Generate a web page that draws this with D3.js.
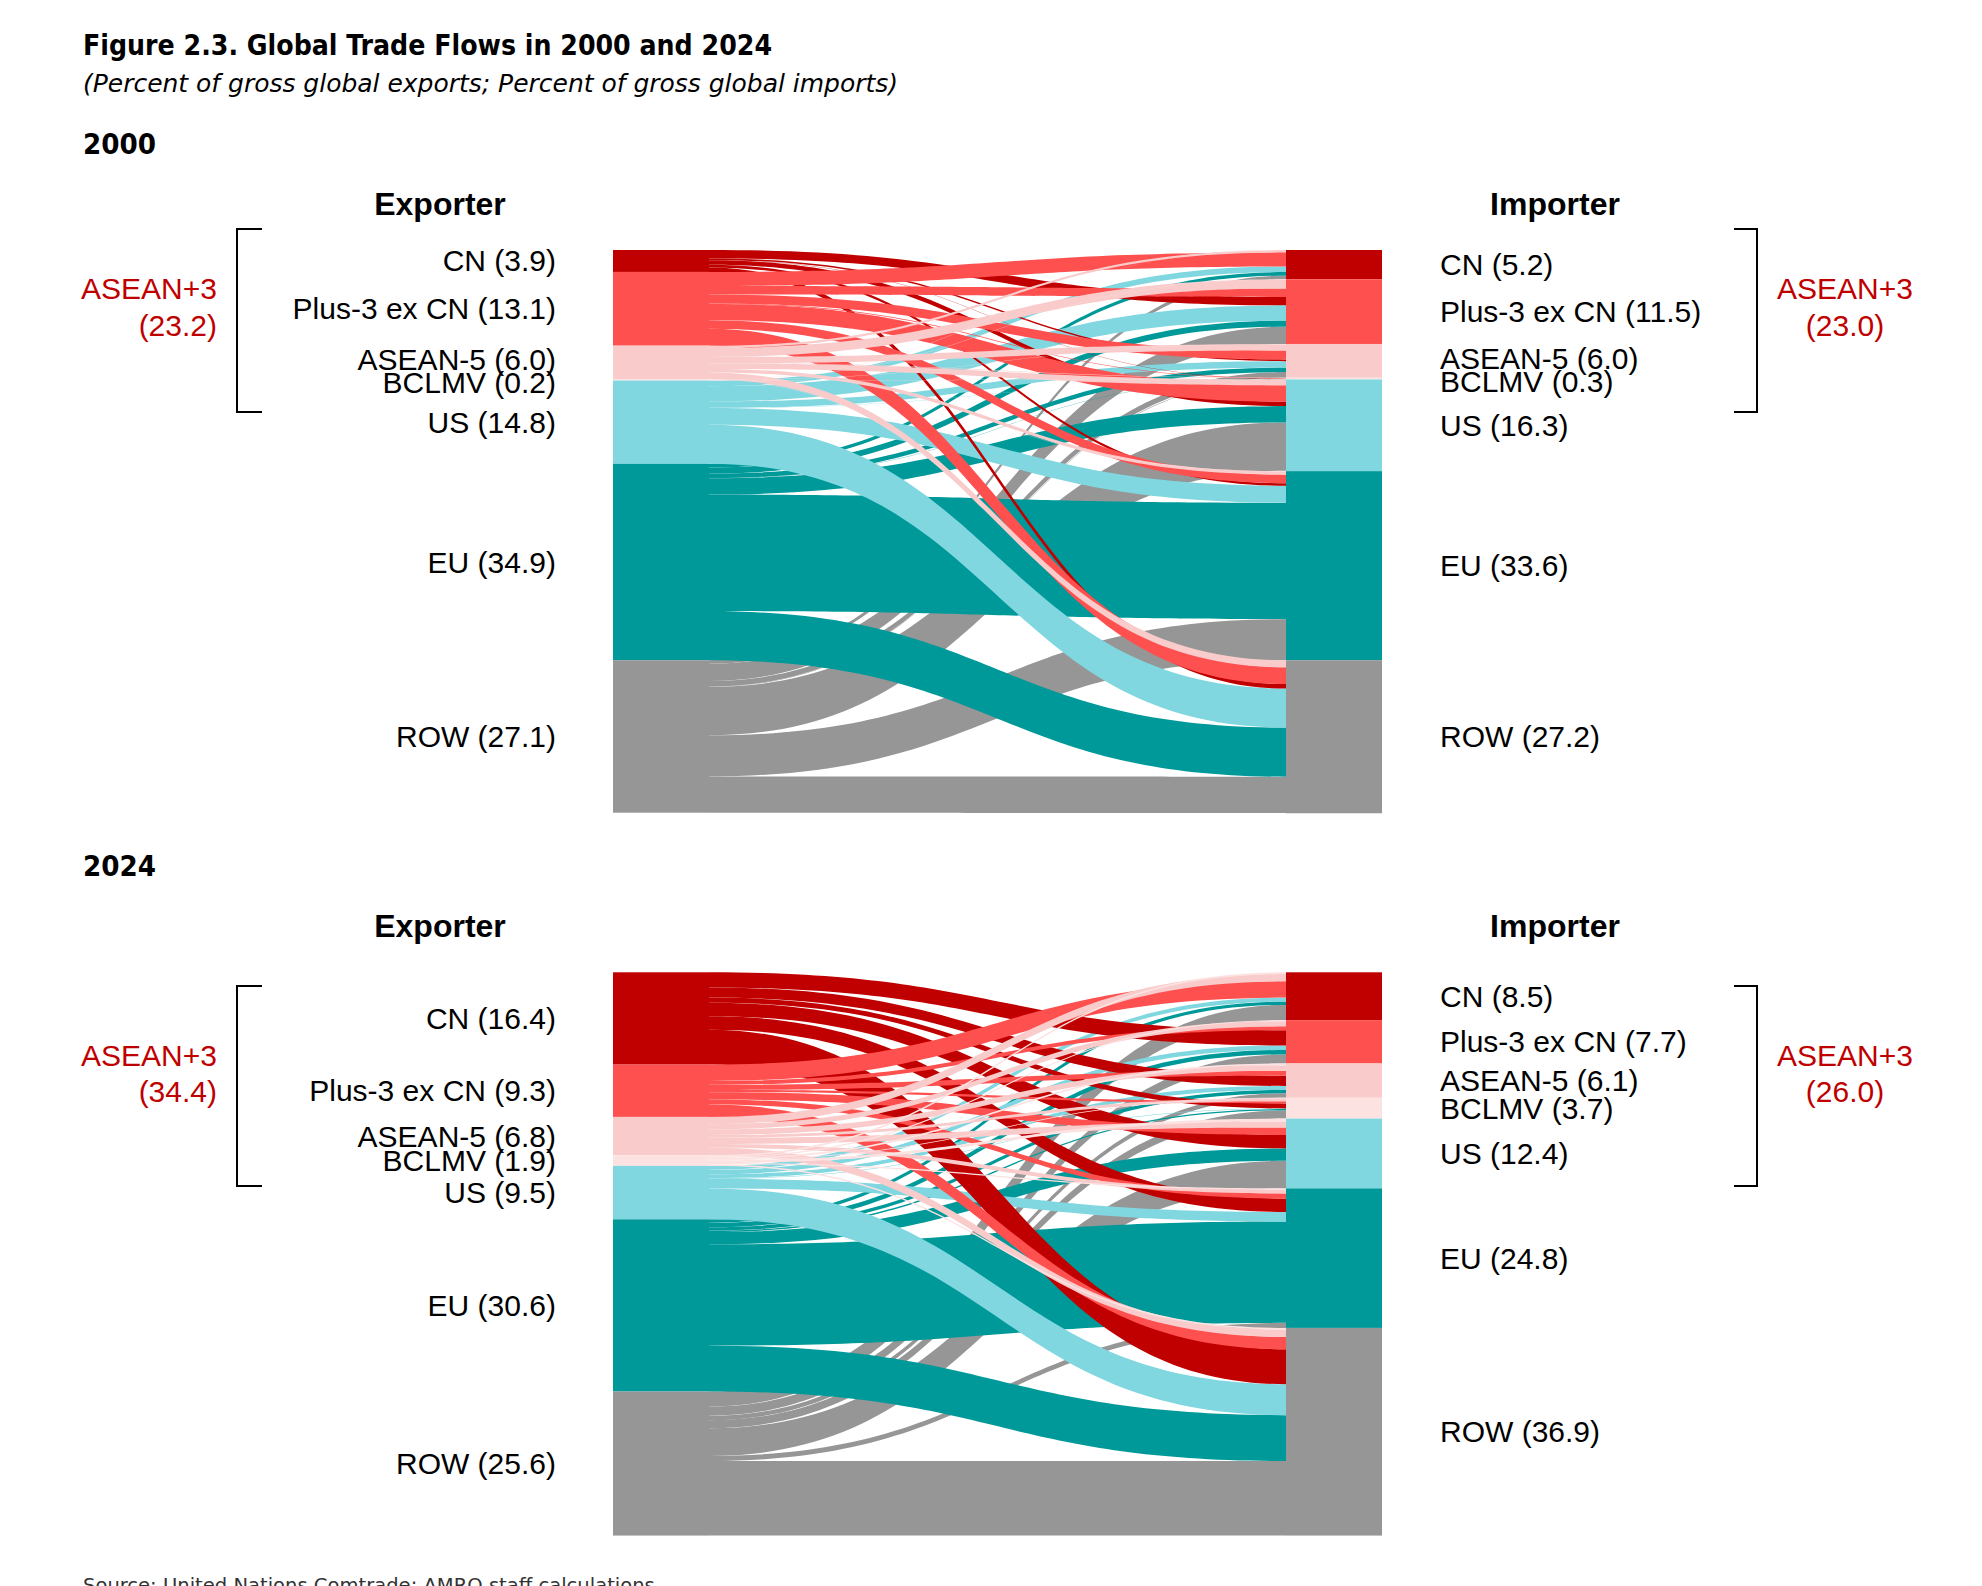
<!DOCTYPE html>
<html>
<head>
<meta charset="utf-8">
<script src="https://cdn.jsdelivr.net/npm/d3@7"></script>
<style>
  body { margin: 0; background: #fff; }
  text { font-family: 'Liberation Sans', Arial, sans-serif; fill: #000; }
  .cond { font-family: 'Liberation Sans Narrow', 'DejaVu Sans Condensed', 'Liberation Sans', sans-serif; }
</style>
</head>
<body>
<svg id="chart"></svg>
<script>
'use strict'

// regions, top to bottom on both sides
const regions = ['CN', 'Plus-3 ex CN', 'ASEAN-5', 'BCLMV', 'US', 'EU', 'ROW']
const regionColors = ['#c00000', '#ff5050', '#f9cbcb', '#fde2e2', '#80d7e0', '#009999', '#969696']

// order in which exporters are stacked inside each importer bar
const importerStackOrder = [3, 2, 1, 0, 4, 5, 6]
// exporters painted back to front
const paintOrder = [6, 5, 4, 0, 1, 2, 3]

// 2000, percent of gross global exports / imports
const exporters2000 = [3.9, 13.1, 6.0, 0.2, 14.8, 34.9, 27.1]
const importers2000 = [5.2, 11.5, 6.0, 0.3, 16.3, 33.6, 27.2]
const asean2000 = [23.2, 23.0]
// rows: exporter, columns: importer (CN, Plus-3, ASEAN-5, BCLMV, US, EU, ROW)
const flows2000 = [
  [0, 1.5, 0.3, 0.03, 0.8, 0.47, 0.8],
  [2.5, 1.5, 1.6, 0.1, 2.9, 1.5, 3.0],
  [0.4, 1.6, 1.1, 0.07, 1.0, 0.6, 1.23],
  [0.02, 0.04, 0.05, 0, 0.04, 0.03, 0.02],
  [1.0, 2.7, 1.15, 0.02, 0, 3.0, 6.93],
  [0.65, 1.1, 0.8, 0.02, 2.9, 20.7, 8.73],
  [0.63, 3.06, 1.0, 0.06, 8.6, 7.3, 6.45]
]

// 2024
const exporters2024 = [16.4, 9.3, 6.8, 1.9, 9.5, 30.6, 25.6]
const importers2024 = [8.5, 7.7, 6.1, 3.7, 12.4, 24.8, 36.9]
const asean2024 = [34.4, 26.0]
const flows2024 = [
  [0, 2.7, 1.8, 0.9, 2.4, 2.4, 6.2],
  [2.9, 0.7, 0.9, 0.4, 1.3, 0.9, 2.2],
  [1.3, 0.9, 1.0, 0.5, 1.1, 0.7, 1.3],
  [0.3, 0.2, 0.3, 0.1, 0.5, 0.2, 0.3],
  [0.7, 0.8, 0.7, 0.1, 0, 1.7, 5.5],
  [0.6, 0.8, 0.6, 0.25, 2.2, 18.0, 8.15],
  [2.7, 1.6, 0.8, 1.45, 4.9, 0.9, 13.25]
]

const width = 1982
const height = 1586
const srcX0 = 613
const srcX1 = 709
const tgtX0 = 1286
const tgtX1 = 1382
const panelHeight = 562.7
const labelGap = 23
const asean = '#c00000'

const svg = d3.select('#chart')
  .attr('width', width)
  .attr('height', height)
  .style('background', '#fff')

const share = d3.scaleLinear().domain([0, 100]).range([0, panelHeight])

svg.append('text')
  .attr('class', 'cond')
  .attr('x', 83).attr('y', 55)
  .attr('textLength', 689).attr('lengthAdjust', 'spacingAndGlyphs')
  .style('font-size', '28px').style('font-weight', 'bold')
  .text('Figure 2.3. Global Trade Flows in 2000 and 2024')

svg.append('text')
  .attr('class', 'cond')
  .attr('x', 83).attr('y', 92)
  .attr('textLength', 815).attr('lengthAdjust', 'spacingAndGlyphs')
  .style('font-size', '24px').style('font-style', 'italic')
  .text('(Percent of gross global exports; Percent of gross global imports)')

svg.append('text')
  .attr('class', 'cond')
  .attr('x', 83).attr('y', 1592)
  .attr('textLength', 578).attr('lengthAdjust', 'spacingAndGlyphs')
  .style('font-size', '20px').style('fill', '#333')
  .text('Source: United Nations Comtrade; AMRO staff calculations.')

function stack (values, top) {
  let acc = 0
  return values.map(v => {
    const y0 = top + share(acc)
    acc += v
    return { y0, y1: top + share(acc), value: v }
  })
}

function spread (ys) {
  const out = ys.slice()
  for (let k = 0; k < 30; k++) {
    for (let i = 1; i < out.length; i++) {
      const d = out[i] - out[i - 1]
      if (d < labelGap) {
        const s = (labelGap - d) / 2
        out[i - 1] -= s
        out[i] += s
      }
    }
  }
  return out
}

function ribbon (l) {
  const xm = (srcX1 + tgtX0) / 2
  const p = d3.path()
  p.moveTo(srcX1, l.sy0)
  p.bezierCurveTo(xm, l.sy0, xm, l.ty0, tgtX0, l.ty0)
  p.lineTo(tgtX0, l.ty1)
  p.bezierCurveTo(xm, l.ty1, xm, l.sy1, srcX1, l.sy1)
  p.closePath()
  return p.toString()
}

function drawPanel ({ top, year, exporters, importers, flows, totals, bracket, aseanY }) {
  const g = svg.append('g')
  const srcNodes = stack(exporters, top)
  const tgtNodes = stack(importers, top)

  // links, stacked by importer inside each exporter bar
  const links = []
  srcNodes.forEach((n, i) => {
    let off = n.y0
    flows[i].forEach((v, j) => {
      const l = { source: i, target: j, value: v, sy0: off }
      off += share(v)
      l.sy1 = off
      links.push(l)
    })
  })
  tgtNodes.forEach((n, j) => {
    let off = n.y0
    importerStackOrder.forEach(i => {
      const l = links.find(d => d.source === i && d.target === j)
      l.ty0 = off
      off += share(l.value)
      l.ty1 = off
    })
  })

  const drawn = links
    .filter(l => l.value > 0)
    .sort((a, b) => (paintOrder.indexOf(a.source) - paintOrder.indexOf(b.source)) || (a.target - b.target))

  g.append('g').selectAll('path')
    .data(drawn)
    .join('path')
      .attr('d', ribbon)
      .attr('fill', d => regionColors[d.source])

  g.append('g').selectAll('rect')
    .data(srcNodes)
    .join('rect')
      .attr('x', srcX0)
      .attr('y', d => d.y0)
      .attr('width', srcX1 - srcX0)
      .attr('height', d => d.y1 - d.y0)
      .attr('fill', (d, i) => regionColors[i])

  g.append('g').selectAll('rect')
    .data(tgtNodes)
    .join('rect')
      .attr('x', tgtX0)
      .attr('y', d => d.y0)
      .attr('width', tgtX1 - tgtX0)
      .attr('height', d => d.y1 - d.y0)
      .attr('fill', (d, i) => regionColors[i])

  // node labels
  const leftY = spread(srcNodes.map(d => (d.y0 + d.y1) / 2))
  const rightY = spread(tgtNodes.map(d => (d.y0 + d.y1) / 2))

  g.append('g').selectAll('text')
    .data(srcNodes)
    .join('text')
      .attr('x', 556)
      .attr('y', (d, i) => leftY[i])
      .attr('text-anchor', 'end')
      .attr('dominant-baseline', 'central')
      .style('font-size', '30px')
      .text((d, i) => `${regions[i]} (${d.value.toFixed(1)})`)

  g.append('g').selectAll('text')
    .data(tgtNodes)
    .join('text')
      .attr('x', 1440)
      .attr('y', (d, i) => rightY[i])
      .attr('dominant-baseline', 'central')
      .style('font-size', '30px')
      .text((d, i) => `${regions[i]} (${d.value.toFixed(1)})`)

  g.append('text')
    .attr('class', 'cond')
    .attr('x', 83).attr('y', top - 96)
    .attr('textLength', 73).attr('lengthAdjust', 'spacingAndGlyphs')
    .style('font-size', '28px').style('font-weight', 'bold')
    .text(year)

  g.append('text')
    .attr('x', 440).attr('y', top - 35)
    .attr('text-anchor', 'middle')
    .style('font-size', '32px').style('font-weight', 'bold')
    .text('Exporter')

  g.append('text')
    .attr('x', 1555).attr('y', top - 35)
    .attr('text-anchor', 'middle')
    .style('font-size', '32px').style('font-weight', 'bold')
    .text('Importer')

  // ASEAN+3 brackets
  const [b0, b1] = bracket
  g.append('path')
    .attr('d', `M262,${b0}H237V${b1}H262`)
    .attr('fill', 'none').attr('stroke', '#000').attr('stroke-width', 2)
  g.append('path')
    .attr('d', `M1734,${b0}H1757V${b1}H1734`)
    .attr('fill', 'none').attr('stroke', '#000').attr('stroke-width', 2)

  const sides = [
    { x: 217, anchor: 'end', value: totals[0] },
    { x: 1845, anchor: 'middle', value: totals[1] }
  ]
  sides.forEach(s => {
    g.append('text')
      .attr('x', s.x).attr('y', aseanY[0])
      .attr('text-anchor', s.anchor)
      .attr('dominant-baseline', 'central')
      .style('font-size', '30px').style('fill', asean)
      .text('ASEAN+3')
    g.append('text')
      .attr('x', s.x).attr('y', aseanY[1])
      .attr('text-anchor', s.anchor)
      .attr('dominant-baseline', 'central')
      .style('font-size', '30px').style('fill', asean)
      .text(`(${s.value.toFixed(1)})`)
  })
}

drawPanel({
  top: 250,
  year: '2000',
  exporters: exporters2000,
  importers: importers2000,
  flows: flows2000,
  totals: asean2000,
  bracket: [229, 412],
  aseanY: [288, 325]
})

drawPanel({
  top: 972.3,
  year: '2024',
  exporters: exporters2024,
  importers: importers2024,
  flows: flows2024,
  totals: asean2024,
  bracket: [986, 1186],
  aseanY: [1055, 1091]
})
</script>
</body>
</html>
